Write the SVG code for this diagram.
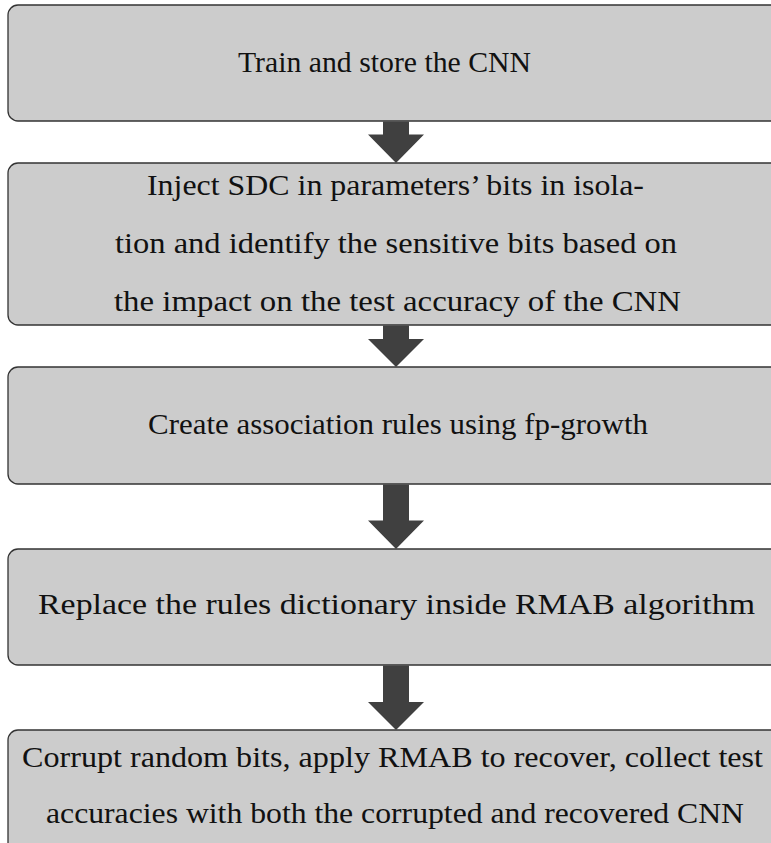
<svg xmlns="http://www.w3.org/2000/svg" width="771" height="843" viewBox="0 0 771 843">
<style>
.box{fill:#cccccc;stroke:#333333;stroke-width:1.3}
.t{font-family:"Liberation Serif","DejaVu Serif",serif;font-size:28.5px;fill:#111111;text-anchor:middle}
.arr{fill:#404040}
</style>
<rect x="0" y="0" width="771" height="843" fill="#ffffff"/>
<g id="n1"><rect class="box" x="8" y="5" width="776" height="116" rx="10"/>
<text class="t" x="384.5" y="72" textLength="293" lengthAdjust="spacingAndGlyphs">Train and store the CNN</text></g>
<g id="n2"><rect class="box" x="8" y="163" width="776" height="162" rx="10"/>
<text class="t" x="395.5" y="195" textLength="497" lengthAdjust="spacingAndGlyphs">Inject SDC in parameters’ bits in isola-</text>
<text class="t" x="396" y="253" textLength="562" lengthAdjust="spacingAndGlyphs">tion and identify the sensitive bits based on</text>
<text class="t" x="397.5" y="311" textLength="567" lengthAdjust="spacingAndGlyphs">the impact on the test accuracy of the CNN</text></g>
<g id="n3"><rect class="box" x="8" y="367" width="776" height="117" rx="10"/>
<text class="t" x="398" y="434" textLength="500" lengthAdjust="spacingAndGlyphs">Create association rules using fp-growth</text></g>
<g id="n4"><rect class="box" x="8" y="549" width="776" height="116" rx="10"/>
<text class="t" x="396.5" y="614" textLength="717" lengthAdjust="spacingAndGlyphs">Replace the rules dictionary inside RMAB algorithm</text></g>
<g id="n5"><rect class="box" x="8" y="730" width="776" height="140" rx="10"/>
<text class="t" x="392.5" y="767" textLength="741" lengthAdjust="spacingAndGlyphs">Corrupt random bits, apply RMAB to recover, collect test</text>
<text class="t" x="395" y="823" textLength="698" lengthAdjust="spacingAndGlyphs">accuracies with both the corrupted and recovered CNN</text></g>
<g id="connectors">
<polygon class="arr" points="383,121.5 409,121.5 409,134.5 424,134.5 396,163 368,134.5 383,134.5"/>
<polygon class="arr" points="383,325.5 409,325.5 409,339 424,339 396,367 368,339 383,339"/>
<polygon class="arr" points="383,484.5 409,484.5 409,520.5 424,520.5 396,549 368,520.5 383,520.5"/>
<polygon class="arr" points="383,665.5 409,665.5 409,702 424,702 396,730 368,702 383,702"/>
</g>
</svg>
